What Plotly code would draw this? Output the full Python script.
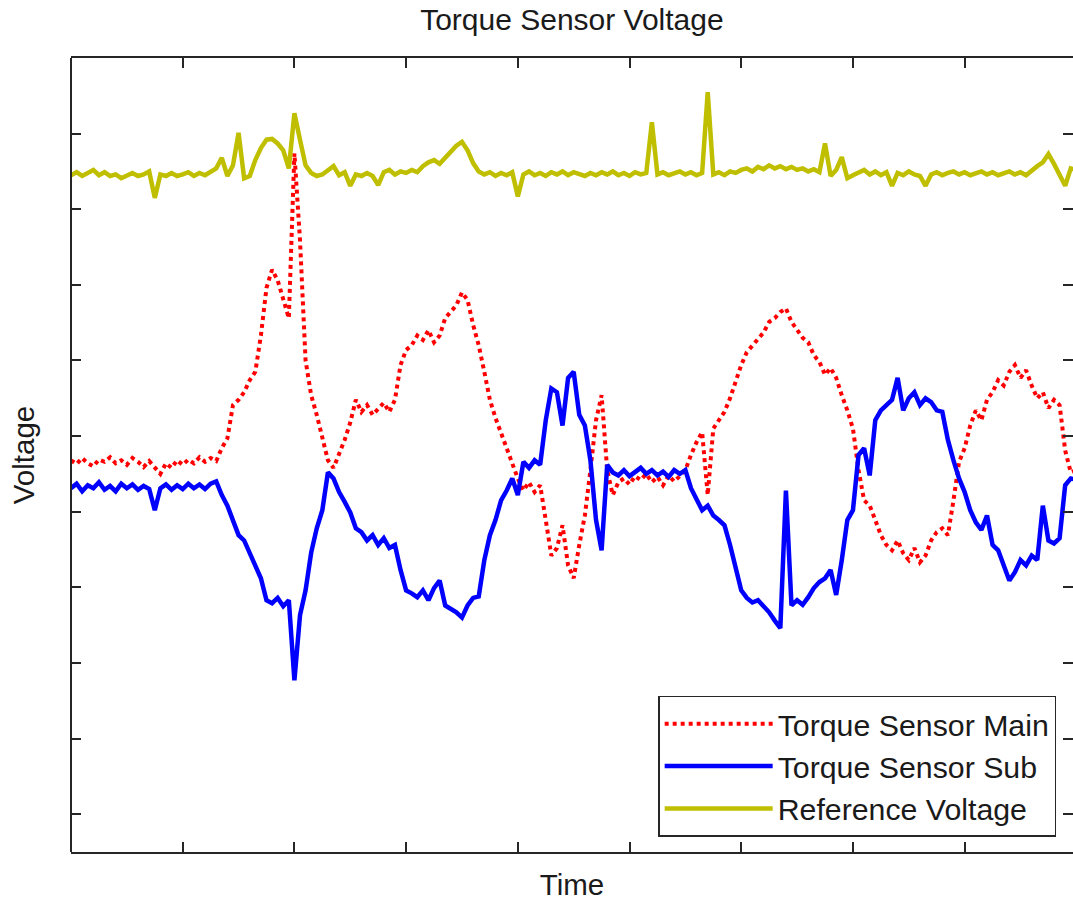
import plotly.graph_objects as go

# Sampled signals (V), one sample every 0.05 s
torque_main = [
    4.68, 4.63, 4.71, 4.64, 4.60, 4.69, 4.66, 4.72, 4.64, 4.68,
    4.62, 4.71, 4.66, 4.59, 4.67, 4.58, 4.50, 4.64, 4.58, 4.68,
    4.62, 4.69, 4.64, 4.72, 4.66, 4.71, 4.67, 4.84, 4.97, 5.41,
    5.48, 5.58, 5.74, 5.85, 6.33, 6.96, 7.20, 7.06, 6.80, 6.56,
    8.74, 7.59, 6.00, 5.54, 5.28, 4.97, 4.68, 4.58, 4.75, 4.95,
    5.18, 5.48, 5.32, 5.41, 5.28, 5.37, 5.44, 5.32, 5.48, 5.94,
    6.14, 6.20, 6.33, 6.27, 6.40, 6.24, 6.33, 6.56, 6.64, 6.73,
    6.90, 6.80, 6.47, 6.20, 5.85, 5.48, 5.24, 5.04, 4.84, 4.66,
    4.44, 4.28, 4.39, 4.26, 4.35, 3.89, 3.42, 3.52, 3.82, 3.29,
    3.12, 3.56, 3.95, 4.55, 5.21, 5.54, 4.55, 4.22, 4.39, 4.44,
    4.36, 4.47, 4.42, 4.50, 4.39, 4.46, 4.35, 4.48, 4.40, 4.47,
    4.55, 4.75, 4.92, 5.05, 4.22, 5.10, 5.21, 5.32, 5.50, 5.71,
    5.94, 6.11, 6.20, 6.30, 6.37, 6.51, 6.56, 6.64, 6.69, 6.51,
    6.40, 6.30, 6.24, 6.07, 5.98, 5.81, 5.90, 5.77, 5.54, 5.34,
    5.10, 4.55, 4.15, 4.08, 3.89, 3.69, 3.56, 3.49, 3.62, 3.45,
    3.36, 3.52, 3.33, 3.42, 3.62, 3.73, 3.78, 3.69, 4.15, 4.66,
    4.84, 5.14, 5.34, 5.21, 5.48, 5.58, 5.74, 5.67, 5.85, 5.94,
    5.77, 5.87, 5.67, 5.50, 5.58, 5.37, 5.48, 5.41, 4.81, 4.52,
    4.55,
]

torque_sub = [
    4.31, 4.37, 4.27, 4.35, 4.31, 4.39, 4.29, 4.34, 4.27, 4.37,
    4.31, 4.36, 4.29, 4.34, 4.30, 4.02, 4.31, 4.36, 4.29, 4.35,
    4.30, 4.37, 4.31, 4.36, 4.30, 4.37, 4.40, 4.22, 4.08, 3.89,
    3.69, 3.62, 3.46, 3.29, 3.12, 2.83, 2.79, 2.86, 2.75, 2.83,
    1.77, 2.63, 2.96, 3.46, 3.78, 4.02, 4.52, 4.44, 4.26, 4.13,
    3.99, 3.78, 3.73, 3.62, 3.69, 3.56, 3.65, 3.52, 3.56, 3.23,
    2.96, 2.92, 2.87, 2.96, 2.83, 2.99, 3.09, 2.76, 2.72, 2.67,
    2.60, 2.76, 2.86, 2.88, 3.36, 3.69, 3.89, 4.15, 4.28, 4.44,
    4.22, 4.66, 4.58, 4.68, 4.62, 5.21, 5.63, 5.58, 5.14, 5.77,
    5.85, 5.28, 5.14, 4.68, 3.89, 3.49, 4.62, 4.52, 4.48, 4.55,
    4.47, 4.52, 4.58, 4.50, 4.55, 4.48, 4.53, 4.46, 4.55, 4.50,
    4.55, 4.31, 4.18, 4.02, 4.08, 3.95, 3.89, 3.82, 3.56, 3.25,
    2.96, 2.86, 2.80, 2.83, 2.75, 2.67, 2.56, 2.46, 4.28, 2.76,
    2.83, 2.77, 2.87, 2.99, 3.07, 3.12, 3.23, 2.90, 3.36, 3.89,
    4.02, 4.75, 4.84, 4.48, 5.21, 5.34, 5.41, 5.48, 5.77, 5.34,
    5.50, 5.58, 5.41, 5.50, 5.45, 5.34, 5.32, 4.95, 4.68, 4.44,
    4.26, 4.02, 3.86, 3.76, 3.95, 3.56, 3.49, 3.29, 3.09, 3.20,
    3.36, 3.29, 3.42, 3.36, 4.08, 3.62, 3.58, 3.65, 4.35, 4.44,
    4.42,
]

reference_voltage = [
    8.45, 8.49, 8.44, 8.48, 8.52, 8.45, 8.49, 8.44, 8.46, 8.41,
    8.45, 8.48, 8.44, 8.46, 8.50, 8.15, 8.46, 8.44, 8.48, 8.44,
    8.46, 8.49, 8.44, 8.48, 8.45, 8.50, 8.54, 8.68, 8.44, 8.58,
    9.01, 8.41, 8.44, 8.65, 8.81, 8.92, 8.93, 8.87, 8.78, 8.54,
    9.27, 8.92, 8.58, 8.48, 8.44, 8.46, 8.52, 8.57, 8.45, 8.49,
    8.31, 8.46, 8.44, 8.48, 8.44, 8.32, 8.49, 8.52, 8.46, 8.50,
    8.48, 8.52, 8.49, 8.57, 8.62, 8.65, 8.60, 8.68, 8.78, 8.84,
    8.89, 8.78, 8.61, 8.50, 8.46, 8.49, 8.44, 8.48, 8.45, 8.49,
    8.17, 8.46, 8.50, 8.45, 8.48, 8.44, 8.49, 8.46, 8.50, 8.45,
    8.49, 8.46, 8.44, 8.48, 8.45, 8.49, 8.46, 8.50, 8.45, 8.48,
    8.44, 8.49, 8.46, 8.48, 9.15, 8.46, 8.49, 8.45, 8.48, 8.50,
    8.46, 8.49, 8.45, 8.48, 9.55, 8.46, 8.49, 8.45, 8.50, 8.48,
    8.52, 8.54, 8.50, 8.56, 8.53, 8.58, 8.54, 8.57, 8.53, 8.56,
    8.52, 8.54, 8.50, 8.53, 8.49, 8.87, 8.44, 8.52, 8.69, 8.41,
    8.45, 8.49, 8.52, 8.46, 8.50, 8.45, 8.49, 8.31, 8.48, 8.45,
    8.50, 8.46, 8.44, 8.31, 8.46, 8.49, 8.45, 8.48, 8.50, 8.46,
    8.49, 8.45, 8.48, 8.50, 8.46, 8.49, 8.45, 8.48, 8.50, 8.46,
    8.49, 8.45, 8.52, 8.57, 8.62, 8.73, 8.60, 8.44, 8.31, 8.54,
    8.52,
]

sample_period = 0.05
time = [round(k * sample_period, 2) for k in range(len(torque_main))]

x_ticks = list(range(0, 10))
y_ticks = list(range(0, 11))

AXIS_COLOR = "#262626"
TEXT_COLOR = "#1a1a1a"
FONT = "Liberation Sans, Arial, sans-serif"

fig = go.Figure()
fig.add_trace(go.Scatter(x=time, y=torque_main, mode="lines", name="Torque Sensor Main",
                         legendgroup="main",
                         line=dict(color="#FF0000", width=4, dash="dot")))
fig.add_trace(go.Scatter(x=time, y=torque_sub, mode="lines", name="Torque Sensor Sub",
                         legendgroup="sub",
                         line=dict(color="#0000FF", width=4.5)))
fig.add_trace(go.Scatter(x=time, y=reference_voltage, mode="lines", name="Reference Voltage",
                         legendgroup="ref",
                         line=dict(color="#BFBF00", width=4.5)))

fig.update_layout(
    width=1073, height=901,
    margin=dict(l=71, r=0, t=58, b=49),
    paper_bgcolor="white", plot_bgcolor="white",
    font=dict(family=FONT, color=TEXT_COLOR, size=29.5),
    title=dict(text="Torque Sensor Voltage", x=0.533, xref="container", xanchor="center",
               y=0.978, yref="container", yanchor="middle",
               font=dict(family=FONT, size=30, color=TEXT_COLOR)),
    xaxis=dict(range=[0, 8.97], tickvals=x_ticks, showticklabels=False,
               ticks="inside", ticklen=10, tickwidth=2, tickcolor=AXIS_COLOR,
               showline=True, linewidth=2, linecolor=AXIS_COLOR, mirror="ticks",
               showgrid=False, zeroline=False,
               title=dict(text="Time", standoff=23, font=dict(family=FONT, size=29.5))),
    yaxis=dict(range=[-0.5, 10], tickvals=y_ticks, showticklabels=False,
               ticks="inside", ticklen=10, tickwidth=2, tickcolor=AXIS_COLOR,
               showline=False, mirror="ticks",
               showgrid=False, zeroline=False,
               title=dict(text="Voltage", standoff=26, font=dict(family=FONT, size=29.5))),
    legend=dict(x=0.586, y=0.1965, xanchor="left", yanchor="top",
                bgcolor="white", bordercolor=AXIS_COLOR, borderwidth=1.5,
                font=dict(family=FONT, size=30.3, color=TEXT_COLOR),
                itemwidth=108, tracegroupgap=0),
    shapes=[dict(type="line", xref="paper", yref="paper", x0=0, x1=0, y0=0, y1=1,
                 line=dict(color=AXIS_COLOR, width=2), layer="above")],
)

fig.write_html("out.html")
